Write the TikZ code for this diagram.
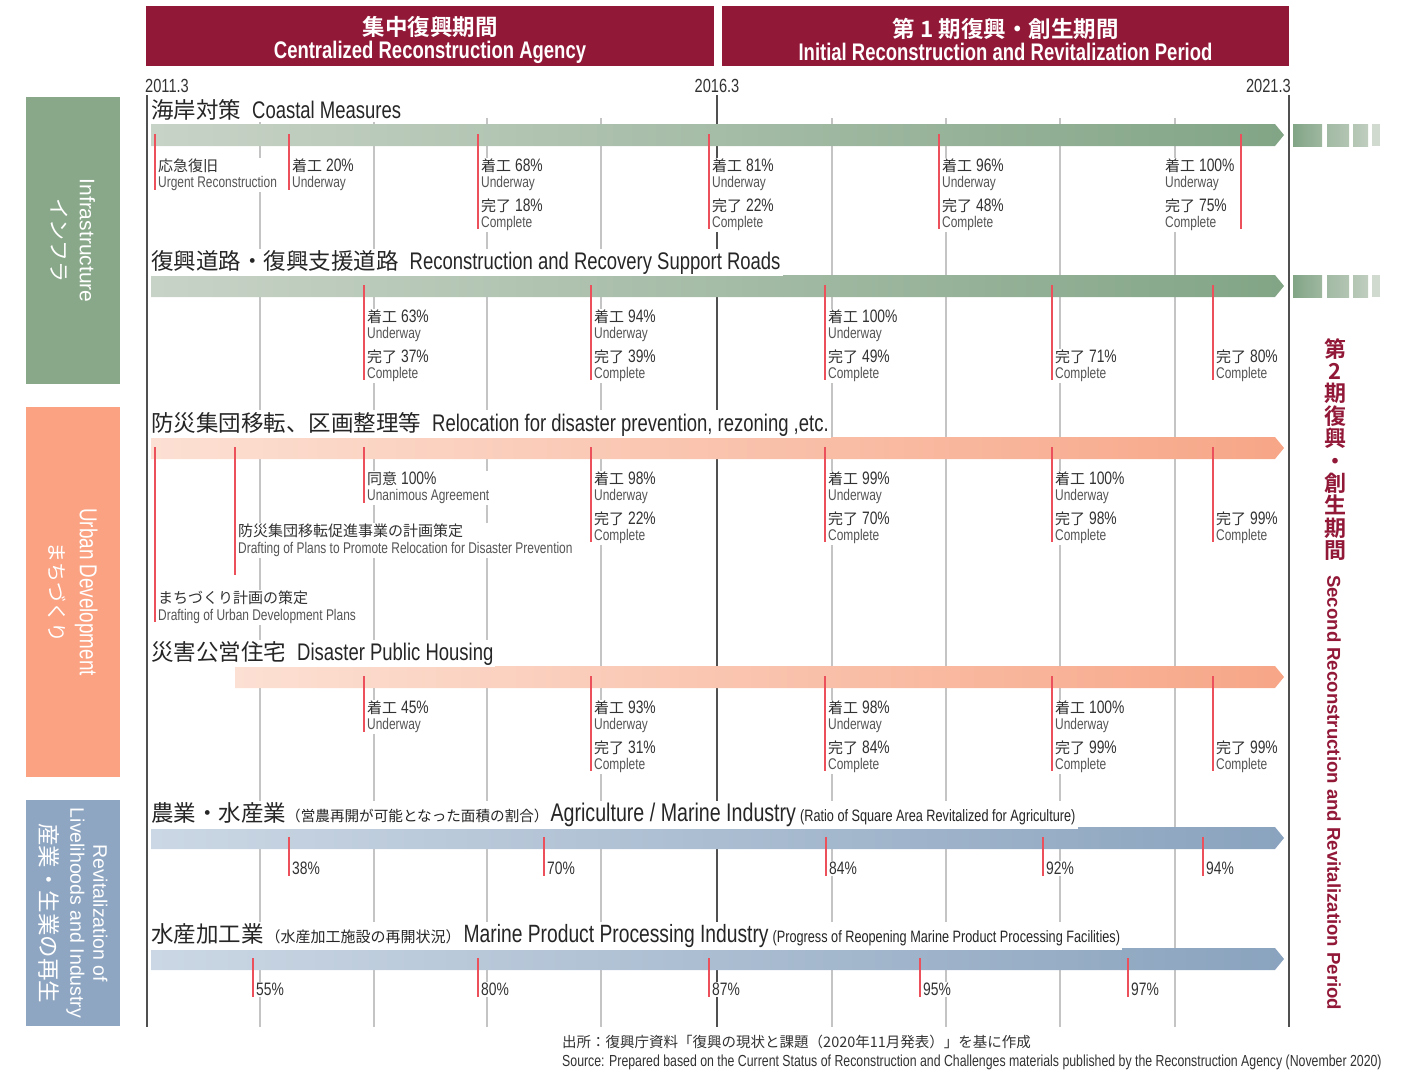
\documentclass[tikz,border=0pt]{standalone}
\usepackage{fontspec}
\setmainfont{Liberation Sans}[FakeStretch=0.77]
\newfontfamily\jpf{Noto Sans CJK JP}[BoldFont={Noto Sans CJK JP Bold}]
\newfontfamily\widef{Liberation Sans}
\usetikzlibrary{positioning}

\definecolor{Crimson}{RGB}{146, 24, 56}
\definecolor{InfraGreen}{RGB}{137, 168, 138}
\definecolor{UrbanSalmon}{RGB}{250, 162, 130}
\definecolor{IndBlue}{RGB}{142, 166, 194}
\definecolor{GridGray}{RGB}{196, 196, 196}
\definecolor{AxisGray}{RGB}{80, 80, 80}
\definecolor{MarkRed}{RGB}{236, 80, 90}
\definecolor{TextGray}{RGB}{50, 50, 50}
\definecolor{SubGray}{RGB}{85, 85, 85}
\definecolor{GreenL}{RGB}{200, 211, 199}
\definecolor{GreenR}{RGB}{130, 165, 134}
\definecolor{OrangeL}{RGB}{252, 224, 211}
\definecolor{OrangeR}{RGB}{247, 166, 135}
\definecolor{BlueL}{RGB}{203, 215, 228}
\definecolor{BlueR}{RGB}{138, 163, 190}

% text pieces
\newcommand\jal[1]{{\jpf\fontsize{15}{16.5}\selectfont#1}}
\newcommand\jat[1]{{\jpf\fontsize{22.5}{26}\selectfont#1}}
\newcommand\jas[2][15]{{\jpf\fontsize{#1}{16}\selectfont#2}}
\newcommand\smalltxt[1]{{\fontsize{16.5}{18}\selectfont#1}}
\newcommand\subtxt[1]{{\color{SubGray}\fontsize{15.5}{16.5}\selectfont#1}}
\newcommand\underway[1]{\jal{着工} #1\%\\\subtxt{Underway}}
\newcommand\complete[1]{\jal{完了} #1\%\\\subtxt{Complete}}
\newcommand\progress[2]{\underway{#1}\\[7pt]\complete{#2}}
% arrow bar and fading tail
\newcommand\progbar[4]{\shade[left color=#3, right color=#4] (#1,#2) -- (1275,#2) -- (1284,#2+11) -- (1275,#2+22) -- (#1,#2+22) -- cycle;}
\newcommand\fadetail[1]{%
  \shade[left color=GreenR, right color=GreenR!60!GreenL] (1293,#1) rectangle (1322,#1+22);
  \shade[left color=GreenR!55!GreenL, right color=GreenR!30!GreenL] (1327,#1) rectangle (1349,#1+22);
  \shade[left color=GreenR!30!GreenL, right color=GreenR!12!GreenL] (1353,#1) rectangle (1368,#1+22);
  \fill[GreenL!85!white] (1372,#1) rectangle (1380,#1+22);}

\begin{document}
\begin{tikzpicture}[x=1pt, y=-1pt,
    period/.style={fill=Crimson, text=white, align=center, inner sep=0pt,
                   minimum height=60pt, font=\bfseries\fontsize{24}{23}\selectfont},
    cat/.style={rotate=-90, text=white, align=center, inner sep=0pt, minimum height=94pt},
    rowtitle/.style={anchor=base west, fill=white, inner sep=2pt, text=black!85,
                     font=\fontsize{24}{26}\selectfont},
    lbl/.style={anchor=north west, align=left, fill=white, inner sep=1pt, text=TextGray,
                font=\fontsize{18}{16.5}\selectfont, execute at begin node=\rule{0pt}{13pt}},
    year/.style={text=TextGray, inner sep=0pt, font=\fontsize{19}{20}\selectfont},
    gridline/.style={GridGray, line width=1.5pt},
    axisline/.style={AxisGray, line width=2pt},
    markline/.style={MarkRed, line width=1.2pt}
]
\useasboundingbox (0,0) rectangle (1410,1069);

% periods
\node[period, minimum width=568pt] (hdA) at (430,36)
  {\rule{0pt}{27pt}{\jpf\fontsize{22.5}{23}\selectfont 集中復興期間}\\Centralized Reconstruction Agency};
\node[period, minimum width=567pt] (hdB) at (1005.5,36)
  {\rule{0pt}{27pt}{\jpf\fontsize{22.5}{23}\selectfont 第 1 期復興・創生期間}\\Initial Reconstruction and Revitalization Period};
\node[year, anchor=base west] (y11) at (145,92) {2011.3};
\node[year, anchor=base] (y16) at (717,92) {2016.3};
\node[year, anchor=base east] (y21) at (1291,92) {2021.3};

% time grid
\foreach \x in {260,374,487,601,832,946,1060,1175}
  \draw[gridline] (\x,118) -- (\x,1027);
\foreach \x in {147,717,1289}
  \draw[axisline] (\x,95) -- (\x,1027);

% categories
\node[cat, fill=InfraGreen, minimum width=287pt, font=\widef\fontsize{21}{28}\selectfont] (infra) at (73,240.5)
  {Infrastructure\\{\jpf インフラ}};
\node[cat, fill=UrbanSalmon, minimum width=370pt, font=\fontsize{24.5}{30}\selectfont] (urban) at (73,592)
  {Urban Development\\{\jpf\fontsize{20}{30}\selectfont まちづくり}};
\node[cat, fill=IndBlue, minimum width=226pt, font=\widef\fontsize{19.5}{23}\selectfont] (indus) at (73,913)
  {Revitalization of\\Livelihoods and Industry\\[7pt]{\jpf\fontsize{22.5}{23}\selectfont 産業・生業の再生}};

% bars
\progbar{151}{124}{GreenL}{GreenR}  \fadetail{124}
\progbar{151}{275}{GreenL}{GreenR}  \fadetail{275}
\progbar{151}{437}{OrangeL}{OrangeR}
\progbar{235}{666}{OrangeL}{OrangeR}
\progbar{151}{827}{BlueL}{BlueR}
\progbar{151}{948}{BlueL}{BlueR}

% row titles
\node[rowtitle] (t1) at (149,118.5) {\jat{海岸対策}\hspace{11pt}Coastal Measures};
\node[rowtitle] (t2) at (149,269.5) {\jat{復興道路・復興支援道路}\hspace{11pt}Reconstruction and Recovery Support Roads};
\node[rowtitle] (t3) at (149,431.5) {\jat{防災集団移転、区画整理等}\hspace{11pt}Relocation for disaster prevention, rezoning ,etc.};
\node[rowtitle] (t4) at (149,660.5) {\jat{災害公営住宅}\hspace{11pt}Disaster Public Housing};
\node[rowtitle] (t5) at (149,821.5) {\jat{農業・水産業}\jas[14.6]{（営農再開が可能となった面積の割合）}\hspace{2pt}{\fontsize{25.5}{26}\selectfont Agriculture / Marine Industry}\hspace{4pt}\smalltxt{(Ratio of Square Area Revitalized for Agriculture)}};
\node[rowtitle] (t6) at (149,942.5) {\jat{水産加工業}\hspace{2pt}\jas{（水産加工施設の再開状況）}\hspace{3pt}{\fontsize{25}{26}\selectfont Marine Product Processing Industry}\hspace{4pt}\smalltxt{(Progress of Reopening Marine Product Processing Facilities)}};

% coastal measures
\node[lbl] (a155) at (157,157.5) {\jal{応急復旧}\\\subtxt{Urgent Reconstruction}};
\draw[markline] (155,134) -- (155,190);
\foreach \x/\txt/\len in {289/\underway{20}/66, 478/\progress{68}{18}/105,
                          709/\progress{81}{22}/105, 939/\progress{96}{48}/105}{
  \node[lbl] (a\x) at (\x+2,157.5) {\txt};
  \draw[markline] (\x,134) -- (\x,124+\len);
}
\node[lbl] (a1166) at (1164,157.5) {\progress{100}{75}};
\draw[markline] (1241,134) -- (1241,229);

% roads
\foreach \x/\txt in {364/\progress{63}{37}, 591/\progress{94}{39}, 825/\progress{100}{49}}{
  \node[lbl] (b\x) at (\x+2,308.5) {\txt};
  \draw[markline] (\x,285) -- (\x,380);
}
\foreach \x/\txt in {1052/\complete{71}, 1213/\complete{80}}{
  \node[lbl] (b\x) at (\x+2,348.4) {\txt};
  \draw[markline] (\x,285) -- (\x,380);
}

% relocation
\node[lbl] (c155) at (157,590) {\jal{まちづくり計画の策定}\\\subtxt{Drafting of Urban Development Plans}};
\draw[markline] (155,447) -- (155,622);
\node[lbl] (c235) at (237,523) {\jal{防災集団移転促進事業の計画策定}\\\subtxt{Drafting of Plans to Promote Relocation for Disaster Prevention}};
\draw[markline] (235,447) -- (235,575);
\node[lbl] (c364) at (366,470.5) {\jal{同意} 100\%\\\subtxt{Unanimous Agreement}};
\draw[markline] (364,447) -- (364,503);
\foreach \x/\txt in {591/\progress{98}{22}, 825/\progress{99}{70}, 1052/\progress{100}{98}}{
  \node[lbl] (c\x) at (\x+2,470.5) {\txt};
  \draw[markline] (\x,447) -- (\x,542);
}
\node[lbl] (c1213) at (1215,510.4) {\complete{99}};
\draw[markline] (1213,447) -- (1213,542);

% public housing
\node[lbl] (d364) at (366,699.5) {\underway{45}};
\draw[markline] (364,676) -- (364,732);
\foreach \x/\txt in {591/\progress{93}{31}, 825/\progress{98}{84}, 1052/\progress{100}{99}}{
  \node[lbl] (d\x) at (\x+2,699.5) {\txt};
  \draw[markline] (\x,676) -- (\x,771);
}
\node[lbl] (d1213) at (1215,739.4) {\complete{99}};
\draw[markline] (1213,676) -- (1213,771);

% agriculture and marine processing
\foreach \x/\p in {289/38, 544/70, 826/84, 1043/92, 1203/94}{
  \node[lbl] (e\x) at (\x+2,860.5) {\p\%};
  \draw[markline] (\x,837) -- (\x,876);
}
\foreach \x/\p in {253/55, 478/80, 709/87, 920/95, 1128/97}{
  \node[lbl] (f\x) at (\x+2,981.5) {\p\%};
  \draw[markline] (\x,958) -- (\x,997);
}

% second period
\node[anchor=north, align=center, text=Crimson, inner sep=0pt,
      font=\jpf\bfseries\fontsize{22}{22.4}\selectfont] (p2jp) at (1335,338)
  {第\\2\\期\\復\\興\\・\\創\\生\\期\\間};
\node[rotate=-90, anchor=west, text=Crimson, inner sep=0pt,
      font=\widef\bfseries\fontsize{18.6}{20}\selectfont] (p2en) at (1334,575)
  {Second Reconstruction and Revitalization Period};

% source
\node[anchor=base west, inner sep=0pt, text=TextGray, font=\jpf\fontsize{14.5}{16}\selectfont] (srcjp) at (562,1047)
  {出所：復興庁資料「復興の現状と課題（2020年11月発表）」を基に作成};
\node[anchor=base west, inner sep=0pt, text=TextGray, font=\fontsize{16}{16}\selectfont] (srcen) at (562,1066)
  {Source: Prepared based on the Current Status of Reconstruction and Challenges materials published by the Reconstruction Agency (November 2020)};
\end{tikzpicture}
\end{document}
